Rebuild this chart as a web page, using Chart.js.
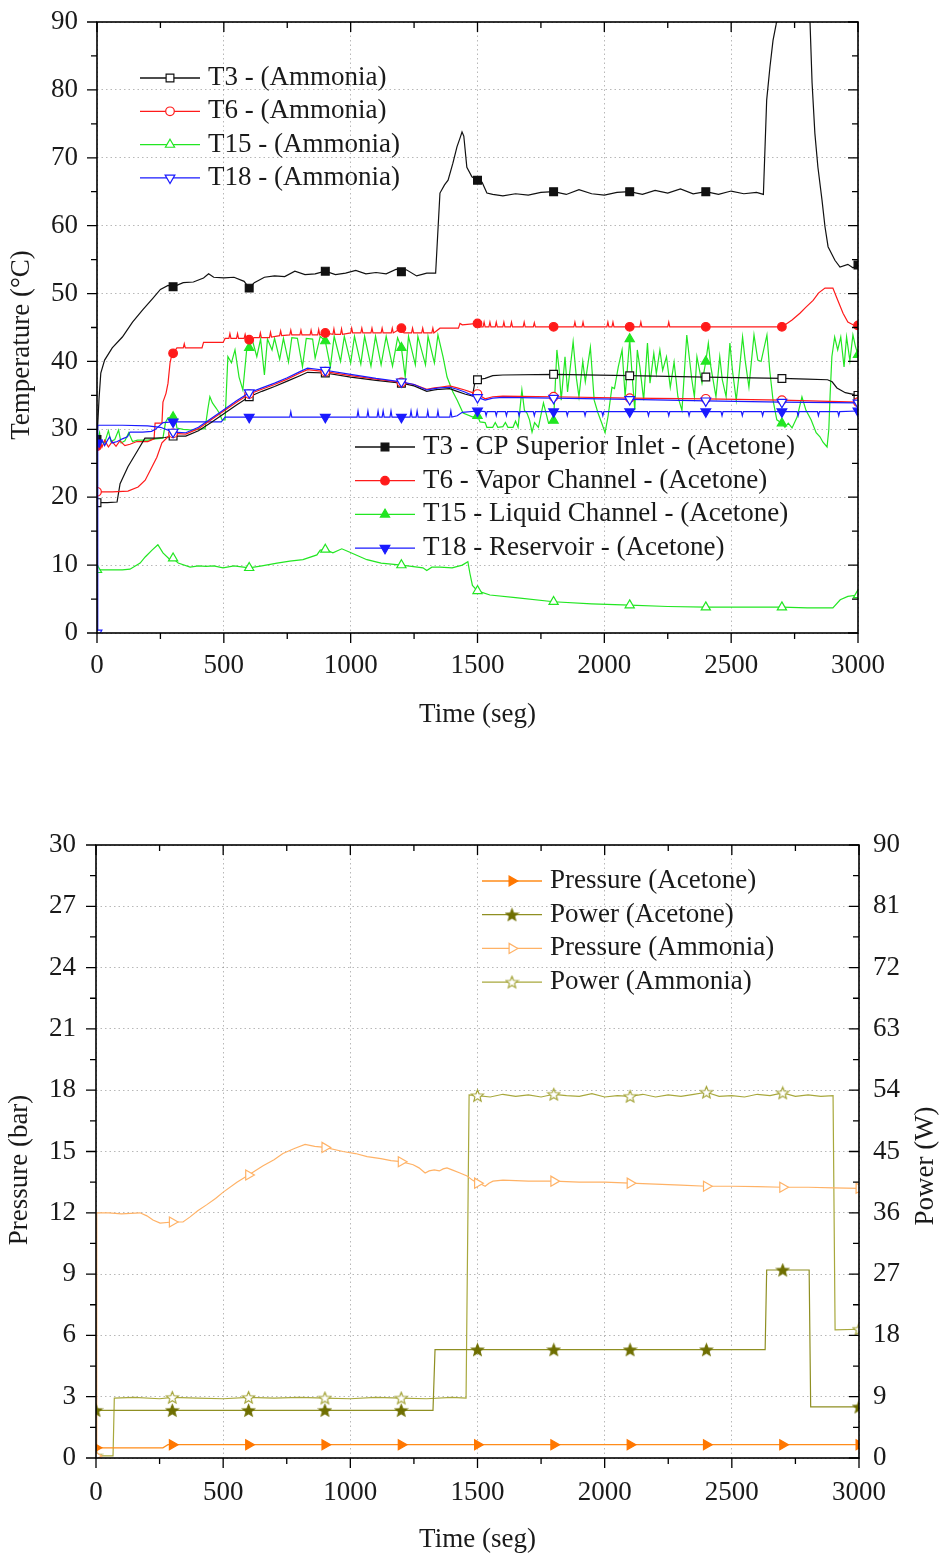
<!DOCTYPE html>
<html>
<head>
<meta charset="utf-8">
<script src="https://cdn.jsdelivr.net/npm/chart.js@4.4.1/dist/chart.umd.min.js"></script>
<style>
  html, body { margin: 0; padding: 0; background: #fff; }
  #wrap { position: relative; width: 940px; height: 1557px; }
  canvas { position: absolute; left: 0; }
</style>
</head>
<body>
<div id="wrap">
  <canvas id="tempChart" width="940" height="770" style="top:0px"></canvas>
  <canvas id="pressChart" width="940" height="787" style="top:770px"></canvas>
</div>
<script>
// tick labels
const timeTicks = [0, 500, 1000, 1500, 2000, 2500, 3000];
const tempTicks = [0, 10, 20, 30, 40, 50, 60, 70, 80, 90];
const pressureTicks = [0, 3, 6, 9, 12, 15, 18, 21, 24, 27, 30];
const powerTicks = [0, 9, 18, 27, 36, 45, 54, 63, 72, 81, 90];

// top chart: [time (s), temperature (°C)]
const t3Acetone = [[0,28.5],[8,34.5],[15,38.3],[30,40.2],[60,42.0],[100,43.6],[140,45.8],[180,47.6],[220,49.3],[250,50.6],
  [280,51.2],[300,51.0],[340,51.6],[380,51.7],[420,52.3],[440,52.9],[460,52.4],[500,52.3],[540,52.4],[580,51.8],
  [600,50.8],[620,51.6],[660,52.4],[700,52.6],[740,52.5],[780,53.3],[820,52.8],[860,52.9],[900,53.3],[940,52.8],
  [980,53.0],[1020,53.4],[1060,52.9],[1100,53.1],[1140,52.9],[1180,53.6],[1200,53.2],[1220,53.5],[1260,52.6],[1300,53.0],
  [1335,53.0],[1345,60.0],[1352,64.8],[1370,66.0],[1384,66.7],[1403,69.2],[1419,71.6],[1432,73.0],[1439,73.8],[1446,73.2],
  [1458,68.6],[1478,67.2],[1500,66.7],[1518,66.4],[1537,64.8],[1560,64.6],[1600,64.4],[1650,64.7],[1700,64.5],[1750,64.9],
  [1800,65.0],[1850,64.6],[1900,65.3],[1950,64.7],[2000,64.5],[2050,64.9],[2100,65.0],[2150,64.6],[2200,65.2],[2250,64.8],
  [2300,65.4],[2350,64.7],[2400,65.0],[2450,64.6],[2500,65.1],[2550,64.7],[2600,64.9],[2627,64.6],[2640,78.5],[2653,83.4],
  [2665,87.3],[2677,89.6],[2700,95.0],[2800,95.0],[2808,92.0],[2811,89.8],[2819,81.0],[2830,73.6],[2842,68.6],[2858,63.8],
  [2870,59.8],[2882,56.9],[2909,54.9],[2929,53.9],[2960,54.3],[2980,53.8],[3000,54.2]];

const t6Acetone = [[0,27.5],[10,28.3],[20,27.4],[30,28.4],[45,27.4],[60,28.2],[75,27.5],[90,28.3],[110,27.6],[130,27.8],
  [157,28.2],[200,28.2],[225,28.6],[229,30.9],[256,30.9],[260,34.0],[272,35.3],[280,36.8],[288,39.8],[296,41.2],
  [300,41.2],[315,42.0],[340,42.0],[344,42.6],[348,42.0],[414,42.0],[420,42.8],[497,42.8],[505,43.4],[520,43.4],
  [524,44.1],[528,43.4],[550,43.4],[554,44.1],[558,43.4],[580,43.4],[584,44.0],[588,43.4],[600,43.2],[620,43.5],
  [640,43.5],[644,44.2],[648,43.5],[680,43.5],[684,44.3],[688,43.6],[720,43.8],[724,44.5],[728,43.8],[760,43.9],
  [764,44.6],[768,43.9],[800,43.9],[804,44.6],[808,43.9],[840,43.9],[844,44.6],[848,43.9],[870,43.9],[874,44.7],
  [878,43.9],[900,44.2],[930,44.0],[934,44.8],[938,44.0],[960,44.0],[964,44.8],[968,44.0],[1000,44.2],[1004,44.9],
  [1008,44.2],[1040,44.2],[1044,44.9],[1048,44.2],[1080,44.2],[1084,44.9],[1088,44.2],[1120,44.2],[1124,44.9],[1128,44.2],
  [1160,44.2],[1164,44.9],[1168,44.2],[1200,44.9],[1210,44.2],[1240,44.2],[1244,44.9],[1248,44.2],[1280,44.2],[1284,44.9],
  [1288,44.2],[1320,44.2],[1324,44.9],[1328,44.2],[1352,44.9],[1425,44.9],[1431,45.6],[1440,45.4],[1500,45.6],[1506,45.1],
  [1522,45.1],[1526,45.8],[1530,45.1],[1545,45.1],[1549,45.8],[1553,45.1],[1570,45.1],[1574,45.8],[1578,45.1],[1600,45.1],
  [1604,45.8],[1608,45.1],[1630,45.1],[1634,45.8],[1638,45.1],[1680,45.1],[1684,45.8],[1688,45.1],[1720,45.1],[1724,45.7],
  [1728,45.1],[1800,45.1],[1880,45.1],[1884,45.8],[1888,45.1],[1912,45.1],[1916,45.8],[1920,45.1],[2010,45.1],[2014,45.8],
  [2018,45.1],[2030,45.1],[2034,45.8],[2038,45.1],[2100,45.1],[2140,45.1],[2144,45.8],[2148,45.1],[2250,45.1],[2254,45.8],
  [2258,45.1],[2400,45.1],[2673,45.1],[2700,45.1],[2720,45.6],[2740,46.1],[2771,47.1],[2795,48.0],[2823,49.0],[2845,50.1],
  [2870,50.8],[2901,50.8],[2915,49.5],[2941,47.1],[2960,45.8],[2980,45.4],[3000,45.3]];

const t15Acetone = [[0,28.0],[10,29.5],[15,28.2],[30,28.0],[45,29.8],[55,28.2],[70,28.5],[85,29.9],[95,28.0],[110,28.3],
  [125,29.5],[140,28.2],[160,28.4],[200,28.4],[230,28.6],[260,28.7],[270,31.0],[280,31.7],[300,31.8],[310,31.5],
  [315,30.2],[340,30.0],[374,29.9],[400,30.0],[426,30.1],[437,33.0],[445,34.8],[455,33.9],[470,33.1],[482,32.4],
  [493,31.4],[505,31.4],[516,40.7],[530,39.8],[544,41.7],[560,37.7],[575,35.8],[591,42.1],[600,42.0],[612,43.2],
  [630,40.7],[645,43.3],[660,38.0],[672,43.3],[690,41.7],[700,43.4],[720,40.3],[735,43.4],[755,39.9],[768,43.5],
  [790,43.4],[810,39.2],[825,43.4],[850,43.3],[860,40.5],[880,43.7],[900,43.0],[920,39.2],[935,43.7],[960,40.0],
  [975,43.7],[1000,39.8],[1015,43.7],[1040,39.6],[1055,43.7],[1080,39.3],[1098,43.7],[1120,39.5],[1140,43.7],[1165,39.3],
  [1185,43.5],[1200,42.0],[1215,37.7],[1228,43.7],[1255,39.5],[1265,43.7],[1295,39.5],[1305,43.7],[1330,39.8],[1344,43.9],
  [1364,40.7],[1380,37.7],[1403,35.5],[1420,34.3],[1443,32.4],[1482,31.8],[1500,32.0],[1510,31.1],[1530,31.0],[1537,30.3],
  [1560,30.3],[1570,31.0],[1580,30.3],[1600,30.4],[1610,31.0],[1620,30.3],[1640,30.3],[1650,31.2],[1660,30.3],[1675,35.8],
  [1685,32.8],[1695,32.4],[1705,31.4],[1715,29.6],[1725,31.0],[1740,30.3],[1760,33.9],[1780,30.9],[1800,31.3],[1813,41.7],
  [1822,38.7],[1830,34.3],[1845,40.7],[1855,35.5],[1877,42.9],[1890,37.5],[1900,34.8],[1915,40.0],[1925,37.0],[1945,42.1],
  [1960,34.3],[1975,32.4],[1990,30.9],[2003,29.5],[2015,32.0],[2030,36.2],[2040,36.0],[2055,39.2],[2070,41.7],[2082,34.8],
  [2100,43.3],[2110,37.7],[2120,32.8],[2130,41.7],[2140,39.2],[2155,34.3],[2170,42.7],[2180,36.8],[2195,41.2],[2205,38.2],
  [2219,41.7],[2230,38.7],[2245,40.7],[2260,36.2],[2275,39.9],[2290,34.8],[2306,32.8],[2325,43.9],[2345,37.3],[2355,34.8],
  [2365,40.7],[2385,36.8],[2400,40.0],[2410,42.7],[2420,39.2],[2440,34.8],[2455,40.7],[2465,37.3],[2480,34.8],[2495,42.7],
  [2505,38.7],[2520,34.3],[2530,37.7],[2545,43.6],[2555,40.2],[2570,36.2],[2590,43.9],[2605,40.2],[2618,40.0],[2641,43.9],
  [2652,38.7],[2665,34.3],[2680,31.4],[2700,30.9],[2712,30.3],[2725,30.9],[2740,30.2],[2760,31.8],[2779,34.8],[2795,32.8],
  [2815,31.4],[2835,29.5],[2850,28.9],[2862,28.1],[2878,27.4],[2885,30.0],[2890,35.0],[2897,40.7],[2908,43.6],[2920,41.7],
  [2932,43.6],[2945,39.2],[2955,43.6],[2968,40.1],[2980,43.9],[2990,42.2],[3000,41.0]];

const t18Acetone = [[0,28.0],[10,27.4],[20,28.4],[30,27.6],[40,28.3],[50,28.9],[60,28.0],[80,28.2],[100,28.6],[120,28.9],
  [130,29.6],[180,29.6],[215,29.7],[230,30.0],[260,31.0],[300,31.1],[400,31.1],[490,31.1],[505,31.8],[600,31.8],
  [700,31.8],[760,31.8],[764,32.6],[768,31.8],[900,31.8],[1025,31.8],[1029,32.7],[1033,31.8],[1064,31.8],[1068,32.7],
  [1072,31.8],[1104,31.8],[1108,32.7],[1112,31.8],[1124,31.8],[1128,32.7],[1132,31.8],[1155,31.8],[1159,32.7],[1163,31.8],
  [1200,31.8],[1234,31.8],[1238,32.7],[1242,31.8],[1258,31.8],[1262,32.7],[1266,31.8],[1300,31.8],[1304,32.7],[1308,31.8],
  [1340,31.8],[1344,32.7],[1348,31.8],[1391,31.8],[1395,32.7],[1399,31.8],[1420,32.0],[1440,32.5],[1500,32.7],[1530,32.6],
  [1534,32.0],[1538,32.6],[1570,32.6],[1574,32.0],[1578,32.6],[1610,32.6],[1614,32.0],[1618,32.6],[1660,32.6],[1664,32.0],
  [1668,32.6],[1720,32.6],[1724,32.0],[1728,32.6],[1800,32.6],[1850,32.6],[1854,32.0],[1858,32.6],[1920,32.6],[1924,32.0],
  [1928,32.6],[1990,32.6],[1994,32.0],[1998,32.6],[2100,32.6],[2170,32.6],[2174,32.0],[2178,32.6],[2250,32.6],[2254,32.0],
  [2258,32.6],[2330,32.6],[2334,32.0],[2338,32.6],[2400,32.6],[2460,32.6],[2464,32.0],[2468,32.6],[2540,32.6],[2544,32.0],
  [2548,32.6],[2620,32.6],[2624,32.0],[2628,32.6],[2700,32.6],[2760,32.6],[2764,32.0],[2768,32.6],[2840,32.6],[2844,32.0],
  [2848,32.6],[2920,32.6],[2924,32.0],[2928,32.6],[3000,32.7]];

const t3Ammonia = [[0,19.2],[40,19.2],[79,19.3],[91,22.0],[122,24.5],[162,27.0],[189,28.7],[230,28.7],[268,28.8],[300,29.0],
  [350,29.0],[400,29.8],[450,31.0],[500,32.3],[550,33.6],[600,34.8],[650,35.6],[700,36.3],[750,37.1],[800,37.9],
  [830,38.4],[900,38.3],[1000,37.7],[1100,37.2],[1200,36.8],[1250,36.4],[1300,35.6],[1330,35.8],[1350,35.9],[1390,36.0],
  [1420,35.6],[1450,35.2],[1480,34.9],[1490,37.0],[1500,37.3],[1530,37.5],[1560,37.9],[1600,38.0],[1800,38.1],[2100,37.9],
  [2400,37.7],[2700,37.5],[2800,37.4],[2880,37.3],[2898,37.0],[2917,36.1],[2950,35.4],[3000,35.0]];

const t6Ammonia = [[0,20.8],[60,20.8],[122,20.9],[162,21.5],[190,22.5],[217,24.5],[236,25.9],[256,28.0],[280,28.9],[300,29.4],
  [350,29.3],[400,30.1],[450,31.4],[500,32.7],[550,34.0],[600,35.2],[650,35.9],[700,36.6],[750,37.4],[800,38.3],
  [830,38.8],[900,38.5],[1000,37.9],[1100,37.4],[1200,36.9],[1250,36.6],[1300,35.9],[1330,36.1],[1350,36.2],[1390,36.4],
  [1420,36.1],[1450,35.8],[1480,35.4],[1500,35.2],[1530,34.5],[1560,34.8],[1600,34.9],[1800,34.8],[2100,34.6],[2400,34.5],
  [2700,34.3],[3000,34.0]];

const t15Ammonia = [[0,9.3],[50,9.3],[100,9.3],[130,9.4],[170,10.3],[190,11.2],[217,12.2],[240,13.0],[260,11.8],[288,10.8],
  [300,11.0],[320,10.3],[367,9.7],[400,9.9],[430,9.8],[460,9.9],[497,9.6],[540,9.9],[600,9.6],[650,9.9],
  [710,10.3],[760,10.6],[812,10.8],[867,11.5],[880,12.2],[900,12.3],[930,11.8],[965,12.4],[990,12.0],[1064,10.8],
  [1120,10.3],[1200,10.0],[1240,9.8],[1285,9.6],[1300,9.2],[1320,9.7],[1352,9.7],[1400,9.6],[1440,10.0],[1462,10.5],
  [1470,8.8],[1480,7.0],[1500,6.2],[1549,5.6],[1650,5.2],[1800,4.6],[1950,4.3],[2100,4.1],[2250,3.9],[2400,3.8],
  [2550,3.8],[2700,3.8],[2800,3.7],[2901,3.7],[2930,4.9],[2960,5.4],[3000,5.6]];

const t18Ammonia = [[0,0],[3,30.6],[100,30.6],[200,30.5],[250,30.3],[300,29.6],[350,29.5],[400,30.3],[450,31.6],[500,32.9],
  [550,34.2],[600,35.4],[650,36.1],[700,36.8],[750,37.6],[800,38.5],[830,39.0],[900,38.7],[1000,38.1],[1100,37.5],
  [1200,37.0],[1250,36.6],[1300,35.8],[1330,36.0],[1350,36.1],[1390,36.2],[1420,35.9],[1450,35.5],[1480,35.0],[1500,34.7],
  [1530,34.3],[1560,34.6],[1600,34.7],[1800,34.6],[2100,34.4],[2400,34.2],[2700,34.0],[3000,33.9]];

// bottom chart: [time (s), pressure (bar)] and [time (s), power (W)]
const pressureAcetone = [[0,0.5],[263,0.5],[283,0.65],[300,0.65],[600,0.65],[900,0.65],[1200,0.65],[1500,0.65],
  [1800,0.65],[2100,0.65],[2400,0.65],[2700,0.65],[3000,0.65]];

const pressureAmmonia = [[0,0.1],[3,12.0],[50,12.0],[100,11.95],[173,12.0],[200,11.85],[224,11.65],[252,11.5],[300,11.55],[342,11.55],
  [370,11.8],[400,12.1],[436,12.4],[470,12.7],[499,13.0],[554,13.5],[600,13.85],[657,14.3],[700,14.6],[735,14.9],
  [780,15.15],[822,15.35],[860,15.25],[900,15.2],[971,15.0],[1020,14.9],[1066,14.75],[1120,14.65],[1160,14.55],[1200,14.5],
  [1247,14.35],[1270,14.2],[1294,13.95],[1310,14.05],[1330,14.1],[1350,14.05],[1365,14.15],[1380,14.2],[1400,14.1],[1431,13.95],
  [1459,13.8],[1480,13.6],[1500,13.45],[1515,13.4],[1530,13.3],[1545,13.45],[1561,13.55],[1600,13.6],[1700,13.55],[1800,13.55],
  [1900,13.5],[2000,13.5],[2100,13.45],[2200,13.4],[2300,13.35],[2400,13.3],[2500,13.3],[2600,13.28],[2700,13.25],[2800,13.25],
  [2900,13.22],[3000,13.2]];

const powerAcetone = [[0,7.0],[300,7.0],[600,7.0],[900,7.0],[1200,7.0],[1325,7.0],[1333,15.9],[1500,15.9],[1800,15.9],
  [2100,15.9],[2400,15.9],[2631,15.9],[2637,27.6],[2700,27.6],[2804,27.6],[2810,7.5],[3000,7.5]];

const powerAmmonia = [[0,0.3],[67,0.3],[72,8.8],[150,8.9],[250,8.7],[300,8.9],[400,8.8],[500,8.7],[600,8.9],[700,8.8],
  [800,8.9],[900,8.8],[1000,8.7],[1100,8.9],[1200,8.8],[1300,8.7],[1400,8.9],[1455,8.8],[1467,53.3],[1500,53.2],
  [1550,53.0],[1600,53.4],[1650,53.1],[1700,53.3],[1750,53.0],[1800,53.4],[1850,53.2],[1900,53.1],[1950,53.5],[2000,53.0],
  [2050,53.2],[2100,53.1],[2150,53.4],[2200,53.0],[2250,53.3],[2300,53.1],[2350,53.4],[2400,53.7],[2450,53.1],[2500,53.2],
  [2550,53.0],[2600,53.4],[2650,53.2],[2700,53.6],[2750,53.1],[2800,53.3],[2850,53.1],[2898,53.2],[2906,18.8],[3000,18.9]];

const FONT = "'Liberation Serif', 'Times New Roman', serif";
const TEXT = '#1a1a1a';
const GRID = 'rgba(0,0,0,0.28)';
Chart.defaults.font.family = FONT;
Chart.defaults.font.size = 27;
Chart.defaults.color = TEXT;

function starImage(fill, stroke) {
  var c = document.createElement('canvas');
  c.width = 15; c.height = 15;
  var g = c.getContext('2d');
  g.beginPath();
  for (var k = 0; k < 10; k++) {
    var r = k % 2 ? 2.7 : 6.3;
    var ang = -Math.PI / 2 + k * Math.PI / 5;
    var px = 7.5 + r * Math.cos(ang), py = 8 + r * Math.sin(ang);
    if (k) g.lineTo(px, py); else g.moveTo(px, py);
  }
  g.closePath();
  g.fillStyle = fill; g.fill();
  g.strokeStyle = stroke; g.lineWidth = 1.1; g.stroke();
  return c;
}

// marker styles
const MK = {
  square: { shape: 'rect', r: 5.5 },
  circle: { shape: 'circle', r: 4.3 },
  up: { shape: 'triangle', r: 5.3 },
  down: { shape: 'triangle', r: 5.6, rot: 180 },
  right: { shape: 'triangle', r: 5.8, rot: 90 },
  starFull: { shape: starImage('#6f6f00', '#6f6f00'), r: 5 },
  starOpen: { shape: starImage('#ffffff', '#a0a030'), r: 5 }
};

function series(label, pairs, color, mark, hollow, axis, markColor) {
  var mc = markColor || color;
  return {
    label: label,
    data: pairs.map(function (p) { return { x: p[0], y: p[1] }; }),
    borderColor: color,
    borderWidth: 1.2,
    tension: 0,
    pointStyle: mark.shape,
    rotation: mark.rot || 0,
    pointRadius: function (c) { return (c.raw && c.raw.x % 300 === 0) ? mark.r : 0; },
    pointBackgroundColor: hollow ? '#ffffff' : mc,
    pointBorderColor: mc,
    pointBorderWidth: 1.2,
    yAxisID: axis || 'y'
  };
}

function drawMark(ctx, mark, color, hollow, x, y) {
  if (typeof mark.shape !== 'string') {
    ctx.drawImage(mark.shape, x - mark.shape.width / 2, y - mark.shape.height / 2);
    return;
  }
  var r = mark.r, rad = (mark.rot || 0) * Math.PI / 180;
  ctx.beginPath();
  if (mark.shape === 'circle') {
    ctx.arc(x, y, r, 0, Math.PI * 2);
  } else if (mark.shape === 'rect') {
    var s = r * Math.SQRT1_2;
    ctx.rect(x - s, y - s, 2 * s, 2 * s);
  } else {
    for (var k = 0; k < 3; k++) {
      var px = x + Math.sin(rad) * r, py = y - Math.cos(rad) * r;
      if (k) ctx.lineTo(px, py); else ctx.moveTo(px, py);
      rad += Math.PI * 2 / 3;
    }
    ctx.closePath();
  }
  ctx.fillStyle = hollow ? '#ffffff' : color;
  ctx.fill();
  ctx.strokeStyle = color;
  ctx.lineWidth = 1.2;
  ctx.stroke();
}

// no label overhang padding, so the plot box is set by layout padding only
function noPad(s) {
  s.paddingTop = 0; s.paddingBottom = 0; s.paddingLeft = 0; s.paddingRight = 0;
}

// frame with ticks: outward on bottom/left, inward on top/right
function frameTicks(xMinor, yMinor) {
  return {
    id: 'frameTicks',
    afterDraw: function (chart) {
      var ctx = chart.ctx, a = chart.chartArea;
      var xs = chart.scales.x, ys = chart.scales.y;
      ctx.save();
      ctx.strokeStyle = '#000';
      ctx.lineWidth = 1.3;
      ctx.beginPath();
      for (var i = 0; xs.min + i * xMinor <= xs.max + 1e-6; i++) {
        var px = xs.getPixelForValue(xs.min + i * xMinor);
        var len = i % 2 === 0 ? 10 : 6;
        ctx.moveTo(px, a.bottom); ctx.lineTo(px, a.bottom + len);
        ctx.moveTo(px, a.top); ctx.lineTo(px, a.top + len);
      }
      for (var j = 0; ys.min + j * yMinor <= ys.max + 1e-6; j++) {
        var py = ys.getPixelForValue(ys.min + j * yMinor);
        var l2 = j % 2 === 0 ? 10 : 6;
        ctx.moveTo(a.left, py); ctx.lineTo(a.left - l2, py);
        ctx.moveTo(a.right, py); ctx.lineTo(a.right - l2, py);
      }
      ctx.stroke();
      ctx.lineWidth = 1.6;
      ctx.strokeRect(a.left, a.top, a.right - a.left, a.bottom - a.top);
      ctx.restore();
    }
  };
}

// vertical titles and legends
function decor(yTitles, legends) {
  return {
    id: 'decor',
    afterDraw: function (chart) {
      var ctx = chart.ctx;
      ctx.save();
      ctx.font = '27px ' + FONT;
      yTitles.forEach(function (t) {
        ctx.save();
        ctx.translate(t.x, t.y);
        ctx.rotate(-Math.PI / 2);
        ctx.textAlign = 'center';
        ctx.textBaseline = 'middle';
        ctx.fillStyle = TEXT;
        ctx.fillText(t.text, 0, 0);
        ctx.restore();
      });
      legends.forEach(function (L) {
        L.items.forEach(function (it, i) {
          var y = L.y + i * L.gap;
          ctx.strokeStyle = it.color;
          ctx.lineWidth = 1.3;
          ctx.beginPath();
          ctx.moveTo(L.x, y); ctx.lineTo(L.x + 60, y);
          ctx.stroke();
          drawMark(ctx, it.mark, it.markColor || it.color, it.hollow, L.x + 30, y);
          ctx.fillStyle = TEXT;
          ctx.textAlign = 'left';
          ctx.textBaseline = 'middle';
          ctx.fillText(it.text, L.x + 68, y);
        });
      });
      ctx.restore();
    }
  };
}

const BLACK = '#111111', RED = '#ff1a1a', GREEN = '#22e622', BLUE = '#1a1aff';

new Chart(document.getElementById('tempChart'), {
  type: 'line',
  data: {
    datasets: [
      series('T18 - (Ammonia)', t18Ammonia, BLUE, MK.down, true),
      series('T6 - (Ammonia)', t6Ammonia, RED, MK.circle, true),
      series('T3 - (Ammonia)', t3Ammonia, BLACK, MK.square, true),
      series('T18 - Reservoir - (Acetone)', t18Acetone, BLUE, MK.down, false),
      series('T6 - Vapor Channel - (Acetone)', t6Acetone, RED, MK.circle, false),
      series('T3 - CP Superior Inlet - (Acetone)', t3Acetone, BLACK, MK.square, false),
      series('T15 - Liquid Channel - (Acetone)', t15Acetone, GREEN, MK.up, false),
      series('T15 - (Ammonia)', t15Ammonia, GREEN, MK.up, true)
    ]
  },
  options: {
    responsive: false,
    animation: false,
    events: [],
    layout: { padding: { left: 0, right: 82, top: 22, bottom: 37 } },
    plugins: { legend: { display: false }, tooltip: { enabled: false } },
    scales: {
      x: {
        type: 'linear', min: 0, max: 3000,
        afterBuildTicks: function (s) { s.ticks = timeTicks.map(function (v) { return { value: v }; }); },
        afterFit: function (s) { s.height = 100; noPad(s); },
        ticks: { padding: 17, maxRotation: 0, autoSkip: false, callback: function (v) { return String(v); } },
        grid: { color: GRID, drawTicks: false },
        border: { display: false, dash: [1.5, 3] },
        title: { display: true, text: 'Time (seg)', padding: { top: 0, bottom: 2 } }
      },
      y: {
        type: 'linear', min: 0, max: 90,
        afterBuildTicks: function (s) { s.ticks = tempTicks.map(function (v) { return { value: v }; }); },
        afterFit: function (s) { s.width = 97; noPad(s); },
        ticks: { padding: 19, autoSkip: false, callback: function (v) { return String(v); } },
        grid: { color: GRID, drawTicks: false },
        border: { display: false, dash: [1.5, 3] }
      }
    }
  },
  plugins: [
    frameTicks(250, 5),
    decor(
      [{ text: 'Temperature (\u00B0C)', x: 22, y: 345 }],
      [
        { x: 140, y: 78, gap: 33.3, items: [
          { text: 'T3 - (Ammonia)', color: BLACK, mark: MK.square, hollow: true },
          { text: 'T6 - (Ammonia)', color: RED, mark: MK.circle, hollow: true },
          { text: 'T15 - (Ammonia)', color: GREEN, mark: MK.up, hollow: true },
          { text: 'T18 - (Ammonia)', color: BLUE, mark: MK.down, hollow: true }
        ] },
        { x: 355, y: 447, gap: 33.7, items: [
          { text: 'T3 - CP Superior Inlet - (Acetone)', color: BLACK, mark: MK.square },
          { text: 'T6 - Vapor Channel - (Acetone)', color: RED, mark: MK.circle },
          { text: 'T15 - Liquid Channel - (Acetone)', color: GREEN, mark: MK.up },
          { text: 'T18 - Reservoir - (Acetone)', color: BLUE, mark: MK.down }
        ] }
      ]
    )
  ]
});

const P_AC = '#ff8c1a', P_AC_MK = '#ff7700', P_AM = '#ffb266', W_AC = '#8f8f22', W_AM = '#a8a83c';

new Chart(document.getElementById('pressChart'), {
  type: 'line',
  data: {
    datasets: [
      series('Pressure (Acetone)', pressureAcetone, P_AC, MK.right, false, 'y', P_AC_MK),
      series('Power (Acetone)', powerAcetone, W_AC, MK.starFull, false, 'yP'),
      series('Pressure (Ammonia)', pressureAmmonia, P_AM, MK.right, true, 'y'),
      series('Power (Ammonia)', powerAmmonia, W_AM, MK.starOpen, true, 'yP')
    ]
  },
  options: {
    responsive: false,
    animation: false,
    events: [],
    layout: { padding: { left: 0, right: 0, top: 75, bottom: 0 } },
    plugins: { legend: { display: false }, tooltip: { enabled: false } },
    scales: {
      x: {
        type: 'linear', min: 0, max: 3000,
        afterBuildTicks: function (s) { s.ticks = timeTicks.map(function (v) { return { value: v }; }); },
        afterFit: function (s) { s.height = 99; noPad(s); },
        ticks: { padding: 19, maxRotation: 0, autoSkip: false, callback: function (v) { return String(v); } },
        grid: { color: GRID, drawTicks: false },
        border: { display: false, dash: [1.5, 3] },
        title: { display: true, text: 'Time (seg)', padding: { top: 0, bottom: 1 } }
      },
      y: {
        type: 'linear', position: 'left', min: 0, max: 30,
        afterBuildTicks: function (s) { s.ticks = pressureTicks.map(function (v) { return { value: v }; }); },
        afterFit: function (s) { s.width = 96; noPad(s); },
        ticks: { padding: 20, autoSkip: false, callback: function (v) { return String(v); } },
        grid: { color: GRID, drawTicks: false },
        border: { display: false, dash: [1.5, 3] }
      },
      yP: {
        type: 'linear', position: 'right', min: 0, max: 90,
        afterBuildTicks: function (s) { s.ticks = powerTicks.map(function (v) { return { value: v }; }); },
        afterFit: function (s) { s.width = 81; noPad(s); },
        ticks: { padding: 14, autoSkip: false, callback: function (v) { return String(v); } },
        grid: { display: false, drawTicks: false },
        border: { display: false }
      }
    }
  },
  plugins: [
    frameTicks(250, 1.5),
    decor(
      [{ text: 'Pressure (bar)', x: 20, y: 400 }, { text: 'Power (W)', x: 926, y: 396 }],
      [
        { x: 482, y: 111, gap: 33.7, items: [
          { text: 'Pressure (Acetone)', color: P_AC, mark: MK.right, markColor: P_AC_MK },
          { text: 'Power (Acetone)', color: W_AC, mark: MK.starFull },
          { text: 'Pressure (Ammonia)', color: P_AM, mark: MK.right, hollow: true },
          { text: 'Power (Ammonia)', color: W_AM, mark: MK.starOpen, hollow: true }
        ] }
      ]
    )
  ]
});
</script>
</body>
</html>
